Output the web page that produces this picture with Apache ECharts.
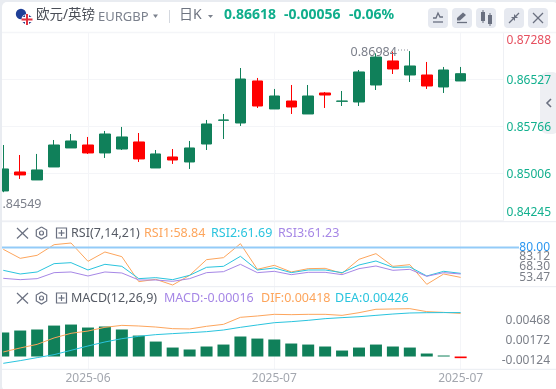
<!DOCTYPE html>
<html><head><meta charset="utf-8">
<style>html,body{margin:0;padding:0;background:#fff}#c{width:556px;height:389px}</style>
<script src="https://cdn.jsdelivr.net/npm/echarts@6/dist/echarts.min.js"></script>
</head><body><div id="c"></div>
<script>
const categories = ['','','','','','2025-06','','','','','','','','','','','2025-07','','','','','','','','','','','2025-07','',''];
const opens  = [.84720,.85027,.84898,.85108,.85416,.85464,.85335,.85399,.85513,.85092,.85270,.85189,.85480,.85863,.85820,.86500,.86047,.86176,.85966,.86306,.86171,.86160,.86435,.86824,.86597,.86597,.86403,.86500];
const closes = [.85076,.84979,.85060,.85464,.85529,.85335,.85642,.85594,.85238,.85319,.85221,.85416,.85804,.85869,.86532,.86095,.86257,.86079,.86257,.86273,.86176,.86646,.86888,.86694,.86743,.86419,.86678,.86618];
const lows   = [.84700,.84914,.84898,.85108,.85416,.85319,.85254,.85383,.85189,.85092,.85157,.85076,.85383,.85561,.85772,.86063,.86047,.85966,.85966,.86063,.86095,.86095,.86354,.86613,.86484,.86371,.86306,.86500];
const highs  = [.85464,.85302,.85319,.85545,.85642,.85594,.85691,.85756,.85658,.85383,.85399,.85529,.85869,.85966,.86710,.86549,.86371,.86435,.86435,.86322,.86338,.86678,.86948,.86975,.86984,.86808,.86727,.86727];
const rsi1 = [78.66,72.30,74.42,81.95,83.12,70.19,76.77,73.48,55.83,57.48,53.47,60.30,71.36,72.77,82.66,64.54,67.36,62.66,65.01,65.24,61.71,71.60,75.60,66.66,67.83,53.95,61.24,58.84];
const rsi2 = [63.83,61.24,62.66,68.54,69.24,64.07,68.07,66.66,57.95,58.66,57.24,60.30,65.95,66.66,73.72,64.07,65.48,62.19,64.07,64.07,62.19,67.60,70.42,65.95,66.19,59.83,63.13,61.69];
const rsi3 = [58.19,57.24,57.95,62.19,62.66,59.83,62.66,61.95,57.01,57.01,56.07,57.95,62.19,62.89,68.07,62.19,63.13,60.77,62.42,62.42,60.77,65.01,66.89,63.83,64.54,59.60,62.19,61.23];
const macd = [.00233,.00252,.00262,.00300,.00310,.00281,.00291,.00262,.00203,.00145,.00087,.00068,.00097,.00116,.00194,.00174,.00165,.00126,.00116,.00097,.00058,.00087,.00116,.00097,.00087,.00029,.00003,-.00016];
const dif  = [.00044,.00083,.00118,.00180,.00225,.00247,.00283,.00302,.00296,.00286,.00270,.00267,.00293,.00312,.00380,.00393,.00409,.00406,.00409,.00409,.00399,.00425,.00458,.00461,.00464,.00435,.00428,.00418];
const dea  = [-.00066,-.00040,-.00011,.00018,.00060,.00102,.00141,.00173,.00196,.00212,.00222,.00231,.00241,.00257,.00283,.00306,.00328,.00338,.00351,.00367,.00377,.00386,.00399,.00412,.00422,.00425,.00426,.00426];
const priceTicks = [.87288,.86527,.85766,.85006,.84245];
const rsiTicks = [83.12,80,68.30,53.47];
const macdTicks = [.00468,.00172,-.00124];
const rsiLevel = [80,80];

const FONT='"Noto Sans","Noto Sans CJK SC",sans-serif';
const GREEN='#10805a',RED='#ff0000',ORANGE='#fda55c',CYAN='#2ac4de',PURPLE='#a687e6';
const GRIDC='#f4f5f8',SEP='#e9ecf2',ICON='#6a7080';
const pad=(t,b)=>[t,0,b,0];

function T(x,y,s,fill,size,weight,align){return {type:'text',z:100,silent:true,style:{x,y,text:s,fill,font:(weight||'normal')+' '+(size||12)+'px '+FONT,textAlign:align||'left',textVerticalAlign:'middle'}};}
function L(x1,y1,x2,y2,stroke,w,z,dash){return {type:'line',z:z||100,silent:true,shape:{x1,y1,x2,y2},style:{stroke,lineWidth:w||1,lineDash:dash}};}
function R(x,y,width,height,fill,r,z){return {type:'rect',z:z||100,silent:true,shape:{x,y,width,height,r:r||0},style:{fill}};}
function P(points,fill,stroke,w){return {type:fill?'polygon':'polyline',z:101,silent:true,shape:{points},style:fill?{fill}:{stroke,lineWidth:w||1,fill:null}};}
function indicatorTools(y){
  const hx=41.5,r=6;
  return [L(17,y-5,28,y+5.5,ICON,1.2),L(28,y-5,17,y+5.5,ICON,1.2),
    P([[hx,y-r],[hx+5.2,y-3],[hx+5.2,y+3],[hx,y+r],[hx-5.2,y+3],[hx-5.2,y-3],[hx,y-r]],null,ICON,1.2),
    {type:'circle',z:101,silent:true,shape:{cx:hx,cy:y,r:2},style:{fill:null,stroke:ICON,lineWidth:1.2}},
    {type:'rect',z:101,silent:true,shape:{x:56.5,y:y-5,width:10,height:10},style:{fill:null,stroke:ICON,lineWidth:1.2}},
    L(58.5,y,64.5,y,ICON,1.2,101),L(61.5,y-3,61.5,y+3,ICON,1.2,101)];
}
const graphic=[
  R(2,2,556,389,'#fff',5,-2),
  {type:'rect',z:-1,silent:true,shape:{x:540,y:72,width:20,height:62,r:8},style:{fill:'#eeeff3'}},
  L(2,32.5,556,32.5,'#f4f5f8',1.5,1),
  L(2,221.7,556,221.7,SEP,1,1),L(2,286.7,556,286.7,SEP,1,1),L(2,369.3,556,369.3,SEP,1,1),
  R(0,0,2,389,'#e9ecf1',0,90),
  {type:'circle',z:100,silent:true,shape:{cx:21,cy:14,r:5.2},style:{fill:'#1f3f97'}},
  {type:'circle',z:100,silent:true,shape:{cx:27,cy:19.5,r:5.5},style:{fill:'#fff'}},
  P([[22.5,17],[25,15],[25,17]],'#27408f'),P([[29,15],[31.5,17],[29,17]],'#27408f'),P([[22.5,22],[25,24],[25,22]],'#27408f'),P([[29,24],[31.5,22],[29,22]],'#27408f'),
  R(21.5,18.5,11,2,'#e0313f',0,101),R(26,14,2,11,'#e0313f',0,101),
  T(36,15.5,'欧元/英镑','#4a4e57',13.5),
  T(98,17,'EURGBP','#7b818d',13),
  P([[153,14.5],[158,14.5],[155.5,18]],'#7b818d'),
  L(169.5,10,169.5,23,'#d4d8df',1),
  T(179,15,'日K','#6e7480',14),
  P([[208,15],[213,15],[210.5,18]],'#7b818d'),
  T(224,15,'0.86618','#10ae8c',14,'bold'),
  T(284,15,'-0.00056','#10ae8c',14,'bold'),
  T(349,15,'-0.06%','#10ae8c',14,'bold'),
  R(428,8,20,20,'#e6e9f0',4),R(452,8,20,20,'#e6e9f0',4),R(476,8,20,20,'#e6e9f0',4),R(504,8,20,20,'#e6e9f0',4),R(528,8,20,20,'#e6e9f0',4),
  L(433,22,443,22,ICON,1.3,101),P([[433,18],[436,18],[438,13],[440,17],[443,17]],null,ICON,1.3),
  L(457,22.5,467,22.5,ICON,1.3,101),P([[457,20.5],[457,18],[463,12.5],[466,15],[460,20.5]],ICON),
  R(481,12,4,9,ICON,0,101),L(483,10,483,23,ICON,1,101),R(488,15,4,9,ICON,0,101),L(490,13,490,26,ICON,1,101),
  L(509,23,513,19,ICON,1.3,101),P([[515,17],[511,17],[515,21]],ICON),L(519,13,516,16,ICON,1.3,101),P([[514,18],[518,18],[514,14]],ICON),
  L(533,13,543,23,ICON,1.2,101),L(543,13,533,23,ICON,1.2,101),
  P([[551,99],[547,103],[551,107]],null,'#6a7080',1.6),
  L(398,50,410,50,'#8a8f99',1,60,[1,2]),
  ...indicatorTools(233),
  T(71,233,'RSI(7,14,21)','#555a64',12.5),
  T(144,233,'RSI1:58.84',ORANGE,12.5),
  T(211,233,'RSI2:61.69',CYAN,12.5),
  T(278,233,'RSI3:61.23',PURPLE,12.5),
  ...indicatorTools(298),
  T(71,298,'MACD(12,26,9)','#555a64',12.5),
  T(164,298,'MACD:-0.00016',PURPLE,12.5),
  T(261,298,'DIF:0.00418',ORANGE,12.5),
  T(335,298,'DEA:0.00426',CYAN,12.5)
];

const tickOn=(i,v)=>v!=='';
function xAxis(gridIndex,showLabel){return {type:'category',gridIndex,data:categories,boundaryGap:true,
  axisLine:{show:false},axisTick:{show:false},
  axisLabel:{show:showLabel,interval:tickOn,color:'#a3a7af',fontSize:12,fontFamily:FONT,margin:3},
  splitLine:{show:true,alignWithLabel:true,interval:tickOn,lineStyle:{color:GRIDC,width:1}}};}
function yAxis(gridIndex,min,max,ticks,fmt,rich,margin,extra){return Object.assign({type:'value',gridIndex,position:'right',min,max,scale:true,
  axisLine:{show:false},axisTick:{show:false,customValues:ticks},
  axisLabel:{customValues:ticks,formatter:fmt,rich,margin,align:'right',showMinLabel:true,showMaxLabel:true,hideOverlap:false,fontFamily:FONT,fontSize:12,color:'#6e7480'},
  splitLine:{show:false}},extra||{});}
const S=(o)=>Object.assign({fontFamily:FONT,fontSize:12},o);
const priceStyle=['t','g','g','g','b'];
const rsiStyle=['a','b','c','d'];
const macdStyle=['a','b','c'];
const line=(name,data,color,x,y)=>({type:'line',name,data,xAxisIndex:x,yAxisIndex:y,symbol:'none',silent:true,animation:false,lineStyle:{color,width:1},z:3});
const GB={outerBoundsMode:'none',containLabel:false};
const RSI_MIN=52.27,RSI_MAX=97.95;
const rsiAxis=yAxis(1,RSI_MIN,RSI_MAX,[RSI_MIN,...rsiTicks,RSI_MAX],v=>{const i=rsiTicks.indexOf(v);return i<0?'':'{'+rsiStyle[i]+'|'+v.toFixed(2)+'}';},{
      a:S({color:'#7b7f88',padding:pad(27,0)}),b:S({color:'#2b96f0',padding:pad(1,0)}),c:S({color:'#7b7f88',padding:pad(5,0)}),d:S({color:'#7b7f88',padding:pad(0,14)})},47);
rsiAxis.axisLabel.showMinLabel=false;rsiAxis.axisLabel.showMaxLabel=false;

const option={
  animation:false,backgroundColor:'#e9ecf1',graphic:{elements:graphic},
  grid:[
    Object.assign({left:-5.2,width:508.2,top:32.3,height:188},GB),
    Object.assign({left:-5.2,width:508.2,top:222,height:64.7},GB),
    Object.assign({left:-5.2,width:508.2,top:286.7,height:82.6},GB),
    Object.assign({left:2,width:517,top:222,height:64.7},GB)
  ],
  xAxis:[xAxis(0,false),xAxis(1,false),xAxis(2,true),
    {type:'category',gridIndex:3,data:['',''],boundaryGap:false,show:false}],
  yAxis:[
    yAxis(0,.84245,.87288,priceTicks,v=>'{'+priceStyle[priceTicks.indexOf(v)]+'|'+v.toFixed(5)+'}',{
      t:S({color:'#e6505f',padding:pad(16,0)}),g:S({color:'#12b08e',padding:pad(2,0)}),b:S({color:'#12b08e',padding:pad(0,16)})},48,
      {axisLine:{show:true,lineStyle:{color:'#eef0f4'}},splitLine:{show:true,lineStyle:{color:GRIDC}}}),
    rsiAxis,
    yAxis(2,-.00124,.00677,macdTicks,v=>'{'+macdStyle[macdTicks.indexOf(v)]+'|'+v.toFixed(5)+'}',{
      a:S({color:'#7b7f88',padding:pad(24,0)}),b:S({color:'#7b7f88',padding:pad(4,0)}),c:S({color:'#7b7f88',padding:pad(0,18)})},47),
    {type:'value',gridIndex:3,min:RSI_MIN,max:RSI_MAX,show:false,splitLine:{show:false}}
  ],
  series:[
    {type:'candlestick',name:'EURGBP',xAxisIndex:0,yAxisIndex:0,barWidth:11,silent:true,
     data:opens.map((o,i)=>[o,closes[i],lows[i],highs[i]]),
     itemStyle:{color:GREEN,color0:RED,borderColor:GREEN,borderColor0:RED,borderWidth:1},
     markPoint:{symbol:'circle',symbolSize:0,silent:true,animation:false,data:[
       {coord:[24,highs[24]],value:highs[24],label:{show:true,position:'left',distance:13,formatter:'0.86984',color:'#7b7f8a',fontSize:12.5,fontFamily:FONT,offset:[0,1]}},
       {coord:[0,.84549],value:.84549,label:{show:true,position:'right',distance:0,formatter:'0.84549',color:'#7b7f8a',fontSize:12.5,fontFamily:FONT,offset:[-8,2.5]}}
     ]}},
    line('RSI1',rsi1,ORANGE,1,1),line('RSI2',rsi2,CYAN,1,1),line('RSI3',rsi3,PURPLE,1,1),
    {type:'line',name:'RSI level',data:rsiLevel,xAxisIndex:3,yAxisIndex:3,symbol:'none',silent:true,z:4,lineStyle:{color:'#93cbf8',width:2}},
    {type:'bar',name:'MACD',data:macd.map(v=>({value:v,itemStyle:{color:v<0?RED:GREEN}})),xAxisIndex:2,yAxisIndex:2,barWidth:12,silent:true,barMinHeight:1,z:2},
    line('DIF',dif,ORANGE,2,2),line('DEA',dea,CYAN,2,2)
  ]
};
echarts.init(document.getElementById('c'),null,{renderer:'canvas'}).setOption(option);
</script></body></html>
